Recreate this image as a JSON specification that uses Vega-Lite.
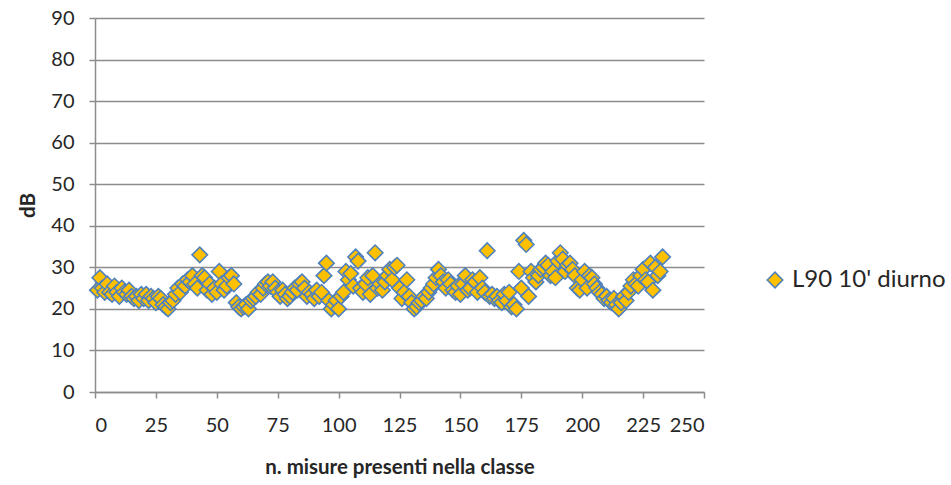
{
  "$schema": "https://vega.github.io/schema/vega-lite/v6.json",
  "autosize": "none",
  "width": 609,
  "height": 374,
  "padding": {"left": 95, "top": 18, "right": 247, "bottom": 93},
  "background": "white",
  "config": {
    "view": {"stroke": null},
    "font": "Lato",
    "axis": {"labelFont": "Lato", "titleFont": "Lato", "labelColor": "#262626", "titleColor": "#262626", "labelFontSize": 20, "titleFontSize": 20.5, "titleFontWeight": "bold", "gridColor": "#8c8c8c", "gridWidth": 1.5, "domainColor": "#8c8c8c", "domainWidth": 1.5, "tickColor": "#8c8c8c", "tickWidth": 1.5, "tickSize": 6}
  },
  "data": {"values": [
    {"n":1,"dB":24.5,"s":"L90 10' diurno"},{"n":2,"dB":27.5,"s":"L90 10' diurno"},{"n":3,"dB":25,"s":"L90 10' diurno"},{"n":4,"dB":24,"s":"L90 10' diurno"},{"n":5,"dB":26,"s":"L90 10' diurno"},{"n":6,"dB":24,"s":"L90 10' diurno"},{"n":7,"dB":23.5,"s":"L90 10' diurno"},{"n":8,"dB":25.5,"s":"L90 10' diurno"},{"n":9,"dB":24,"s":"L90 10' diurno"},{"n":10,"dB":23,"s":"L90 10' diurno"},
    {"n":11,"dB":25,"s":"L90 10' diurno"},{"n":12,"dB":24,"s":"L90 10' diurno"},{"n":13,"dB":23.5,"s":"L90 10' diurno"},{"n":14,"dB":24.5,"s":"L90 10' diurno"},{"n":15,"dB":23,"s":"L90 10' diurno"},{"n":16,"dB":22.5,"s":"L90 10' diurno"},{"n":17,"dB":23,"s":"L90 10' diurno"},{"n":18,"dB":22,"s":"L90 10' diurno"},{"n":19,"dB":23.5,"s":"L90 10' diurno"},{"n":20,"dB":22.5,"s":"L90 10' diurno"},
    {"n":21,"dB":23.5,"s":"L90 10' diurno"},{"n":22,"dB":22,"s":"L90 10' diurno"},{"n":23,"dB":23,"s":"L90 10' diurno"},{"n":24,"dB":22.5,"s":"L90 10' diurno"},{"n":25,"dB":21.5,"s":"L90 10' diurno"},{"n":26,"dB":23,"s":"L90 10' diurno"},{"n":27,"dB":22.5,"s":"L90 10' diurno"},{"n":28,"dB":21,"s":"L90 10' diurno"},{"n":29,"dB":20.5,"s":"L90 10' diurno"},{"n":30,"dB":20,"s":"L90 10' diurno"},
    {"n":31,"dB":21.5,"s":"L90 10' diurno"},{"n":32,"dB":22,"s":"L90 10' diurno"},{"n":33,"dB":23.5,"s":"L90 10' diurno"},{"n":34,"dB":25,"s":"L90 10' diurno"},{"n":35,"dB":24,"s":"L90 10' diurno"},{"n":36,"dB":26,"s":"L90 10' diurno"},{"n":37,"dB":25.5,"s":"L90 10' diurno"},{"n":38,"dB":27,"s":"L90 10' diurno"},{"n":39,"dB":26.5,"s":"L90 10' diurno"},{"n":40,"dB":28,"s":"L90 10' diurno"},
    {"n":41,"dB":26,"s":"L90 10' diurno"},{"n":42,"dB":25,"s":"L90 10' diurno"},{"n":43,"dB":33,"s":"L90 10' diurno"},{"n":44,"dB":28,"s":"L90 10' diurno"},{"n":45,"dB":27.5,"s":"L90 10' diurno"},{"n":46,"dB":24.5,"s":"L90 10' diurno"},{"n":47,"dB":26,"s":"L90 10' diurno"},{"n":48,"dB":23.5,"s":"L90 10' diurno"},{"n":49,"dB":25,"s":"L90 10' diurno"},{"n":50,"dB":24,"s":"L90 10' diurno"},
    {"n":51,"dB":29,"s":"L90 10' diurno"},{"n":52,"dB":26,"s":"L90 10' diurno"},{"n":53,"dB":24.5,"s":"L90 10' diurno"},{"n":54,"dB":25.5,"s":"L90 10' diurno"},{"n":55,"dB":27.5,"s":"L90 10' diurno"},{"n":56,"dB":28,"s":"L90 10' diurno"},{"n":57,"dB":26,"s":"L90 10' diurno"},{"n":58,"dB":21.5,"s":"L90 10' diurno"},{"n":59,"dB":20.5,"s":"L90 10' diurno"},{"n":60,"dB":20,"s":"L90 10' diurno"},
    {"n":61,"dB":20.5,"s":"L90 10' diurno"},{"n":62,"dB":21,"s":"L90 10' diurno"},{"n":63,"dB":20,"s":"L90 10' diurno"},{"n":64,"dB":22,"s":"L90 10' diurno"},{"n":65,"dB":22.5,"s":"L90 10' diurno"},{"n":66,"dB":23,"s":"L90 10' diurno"},{"n":67,"dB":24,"s":"L90 10' diurno"},{"n":68,"dB":23.5,"s":"L90 10' diurno"},{"n":69,"dB":25,"s":"L90 10' diurno"},{"n":70,"dB":26,"s":"L90 10' diurno"},
    {"n":71,"dB":26.5,"s":"L90 10' diurno"},{"n":72,"dB":25.5,"s":"L90 10' diurno"},{"n":73,"dB":26.5,"s":"L90 10' diurno"},{"n":74,"dB":25,"s":"L90 10' diurno"},{"n":75,"dB":24,"s":"L90 10' diurno"},{"n":76,"dB":23,"s":"L90 10' diurno"},{"n":77,"dB":24.5,"s":"L90 10' diurno"},{"n":78,"dB":23.5,"s":"L90 10' diurno"},{"n":79,"dB":22.5,"s":"L90 10' diurno"},{"n":80,"dB":23,"s":"L90 10' diurno"},
    {"n":81,"dB":24,"s":"L90 10' diurno"},{"n":82,"dB":25,"s":"L90 10' diurno"},{"n":83,"dB":24.5,"s":"L90 10' diurno"},{"n":84,"dB":26,"s":"L90 10' diurno"},{"n":85,"dB":26.5,"s":"L90 10' diurno"},{"n":86,"dB":25,"s":"L90 10' diurno"},{"n":87,"dB":23,"s":"L90 10' diurno"},{"n":88,"dB":24,"s":"L90 10' diurno"},{"n":89,"dB":23.5,"s":"L90 10' diurno"},{"n":90,"dB":22.5,"s":"L90 10' diurno"},
    {"n":91,"dB":24.5,"s":"L90 10' diurno"},{"n":92,"dB":23,"s":"L90 10' diurno"},{"n":93,"dB":24,"s":"L90 10' diurno"},{"n":94,"dB":28,"s":"L90 10' diurno"},{"n":95,"dB":31,"s":"L90 10' diurno"},{"n":96,"dB":22,"s":"L90 10' diurno"},{"n":97,"dB":20,"s":"L90 10' diurno"},{"n":98,"dB":21,"s":"L90 10' diurno"},{"n":99,"dB":22,"s":"L90 10' diurno"},{"n":100,"dB":20,"s":"L90 10' diurno"},
    {"n":101,"dB":23,"s":"L90 10' diurno"},{"n":102,"dB":24,"s":"L90 10' diurno"},{"n":103,"dB":29,"s":"L90 10' diurno"},{"n":104,"dB":27,"s":"L90 10' diurno"},{"n":105,"dB":28.5,"s":"L90 10' diurno"},{"n":106,"dB":25.5,"s":"L90 10' diurno"},{"n":107,"dB":32.5,"s":"L90 10' diurno"},{"n":108,"dB":31.5,"s":"L90 10' diurno"},{"n":109,"dB":25,"s":"L90 10' diurno"},{"n":110,"dB":24,"s":"L90 10' diurno"},
    {"n":111,"dB":26,"s":"L90 10' diurno"},{"n":112,"dB":27.5,"s":"L90 10' diurno"},{"n":113,"dB":23.5,"s":"L90 10' diurno"},{"n":114,"dB":28,"s":"L90 10' diurno"},{"n":115,"dB":33.5,"s":"L90 10' diurno"},{"n":116,"dB":25,"s":"L90 10' diurno"},{"n":117,"dB":26,"s":"L90 10' diurno"},{"n":118,"dB":24.5,"s":"L90 10' diurno"},{"n":119,"dB":26.5,"s":"L90 10' diurno"},{"n":120,"dB":28,"s":"L90 10' diurno"},
    {"n":121,"dB":29.5,"s":"L90 10' diurno"},{"n":122,"dB":27,"s":"L90 10' diurno"},{"n":123,"dB":30,"s":"L90 10' diurno"},{"n":124,"dB":30.5,"s":"L90 10' diurno"},{"n":125,"dB":25,"s":"L90 10' diurno"},{"n":126,"dB":22.5,"s":"L90 10' diurno"},{"n":127,"dB":24,"s":"L90 10' diurno"},{"n":128,"dB":27,"s":"L90 10' diurno"},{"n":129,"dB":23,"s":"L90 10' diurno"},{"n":130,"dB":21.5,"s":"L90 10' diurno"},
    {"n":131,"dB":20,"s":"L90 10' diurno"},{"n":132,"dB":20.5,"s":"L90 10' diurno"},{"n":133,"dB":21.5,"s":"L90 10' diurno"},{"n":134,"dB":22,"s":"L90 10' diurno"},{"n":135,"dB":23,"s":"L90 10' diurno"},{"n":136,"dB":22.5,"s":"L90 10' diurno"},{"n":137,"dB":24,"s":"L90 10' diurno"},{"n":138,"dB":25,"s":"L90 10' diurno"},{"n":139,"dB":26,"s":"L90 10' diurno"},{"n":140,"dB":27.5,"s":"L90 10' diurno"},
    {"n":141,"dB":29.5,"s":"L90 10' diurno"},{"n":142,"dB":28,"s":"L90 10' diurno"},{"n":143,"dB":26.5,"s":"L90 10' diurno"},{"n":144,"dB":25,"s":"L90 10' diurno"},{"n":145,"dB":27,"s":"L90 10' diurno"},{"n":146,"dB":26,"s":"L90 10' diurno"},{"n":147,"dB":24.5,"s":"L90 10' diurno"},{"n":148,"dB":24,"s":"L90 10' diurno"},{"n":149,"dB":25.5,"s":"L90 10' diurno"},{"n":150,"dB":23.5,"s":"L90 10' diurno"},
    {"n":151,"dB":26,"s":"L90 10' diurno"},{"n":152,"dB":28,"s":"L90 10' diurno"},{"n":153,"dB":24.5,"s":"L90 10' diurno"},{"n":154,"dB":25,"s":"L90 10' diurno"},{"n":155,"dB":27,"s":"L90 10' diurno"},{"n":156,"dB":26.5,"s":"L90 10' diurno"},{"n":157,"dB":24,"s":"L90 10' diurno"},{"n":158,"dB":27.5,"s":"L90 10' diurno"},{"n":159,"dB":25,"s":"L90 10' diurno"},{"n":160,"dB":24,"s":"L90 10' diurno"},
    {"n":161,"dB":34,"s":"L90 10' diurno"},{"n":162,"dB":23,"s":"L90 10' diurno"},{"n":163,"dB":23.5,"s":"L90 10' diurno"},{"n":164,"dB":22.5,"s":"L90 10' diurno"},{"n":165,"dB":23,"s":"L90 10' diurno"},{"n":166,"dB":22,"s":"L90 10' diurno"},{"n":167,"dB":21.5,"s":"L90 10' diurno"},{"n":168,"dB":23.5,"s":"L90 10' diurno"},{"n":169,"dB":22,"s":"L90 10' diurno"},{"n":170,"dB":24,"s":"L90 10' diurno"},
    {"n":171,"dB":20.5,"s":"L90 10' diurno"},{"n":172,"dB":21,"s":"L90 10' diurno"},{"n":173,"dB":20,"s":"L90 10' diurno"},{"n":174,"dB":29,"s":"L90 10' diurno"},{"n":175,"dB":25,"s":"L90 10' diurno"},{"n":176,"dB":36.5,"s":"L90 10' diurno"},{"n":177,"dB":35.5,"s":"L90 10' diurno"},{"n":178,"dB":23,"s":"L90 10' diurno"},{"n":179,"dB":29,"s":"L90 10' diurno"},{"n":180,"dB":27.5,"s":"L90 10' diurno"},
    {"n":181,"dB":26.5,"s":"L90 10' diurno"},{"n":182,"dB":28,"s":"L90 10' diurno"},{"n":183,"dB":29.5,"s":"L90 10' diurno"},{"n":184,"dB":30,"s":"L90 10' diurno"},{"n":185,"dB":31,"s":"L90 10' diurno"},{"n":186,"dB":30.5,"s":"L90 10' diurno"},{"n":187,"dB":28,"s":"L90 10' diurno"},{"n":188,"dB":29,"s":"L90 10' diurno"},{"n":189,"dB":27.5,"s":"L90 10' diurno"},{"n":190,"dB":31.5,"s":"L90 10' diurno"},
    {"n":191,"dB":33.5,"s":"L90 10' diurno"},{"n":192,"dB":32,"s":"L90 10' diurno"},{"n":193,"dB":29,"s":"L90 10' diurno"},{"n":194,"dB":30.5,"s":"L90 10' diurno"},{"n":195,"dB":31,"s":"L90 10' diurno"},{"n":196,"dB":29.5,"s":"L90 10' diurno"},{"n":197,"dB":28,"s":"L90 10' diurno"},{"n":198,"dB":25,"s":"L90 10' diurno"},{"n":199,"dB":24.5,"s":"L90 10' diurno"},{"n":200,"dB":27,"s":"L90 10' diurno"},
    {"n":201,"dB":29,"s":"L90 10' diurno"},{"n":202,"dB":25,"s":"L90 10' diurno"},{"n":203,"dB":28,"s":"L90 10' diurno"},{"n":204,"dB":27.5,"s":"L90 10' diurno"},{"n":205,"dB":26,"s":"L90 10' diurno"},{"n":206,"dB":25,"s":"L90 10' diurno"},{"n":207,"dB":24,"s":"L90 10' diurno"},{"n":208,"dB":23.5,"s":"L90 10' diurno"},{"n":209,"dB":22.5,"s":"L90 10' diurno"},{"n":210,"dB":23,"s":"L90 10' diurno"},
    {"n":211,"dB":22,"s":"L90 10' diurno"},{"n":212,"dB":21.5,"s":"L90 10' diurno"},{"n":213,"dB":22.5,"s":"L90 10' diurno"},{"n":214,"dB":21,"s":"L90 10' diurno"},{"n":215,"dB":20,"s":"L90 10' diurno"},{"n":216,"dB":21.5,"s":"L90 10' diurno"},{"n":217,"dB":23,"s":"L90 10' diurno"},{"n":218,"dB":22,"s":"L90 10' diurno"},{"n":219,"dB":24,"s":"L90 10' diurno"},{"n":220,"dB":25.5,"s":"L90 10' diurno"},
    {"n":221,"dB":27,"s":"L90 10' diurno"},{"n":222,"dB":26,"s":"L90 10' diurno"},{"n":223,"dB":25.5,"s":"L90 10' diurno"},{"n":224,"dB":28,"s":"L90 10' diurno"},{"n":225,"dB":29.5,"s":"L90 10' diurno"},{"n":226,"dB":27,"s":"L90 10' diurno"},{"n":227,"dB":26.5,"s":"L90 10' diurno"},{"n":228,"dB":31,"s":"L90 10' diurno"},{"n":229,"dB":24.5,"s":"L90 10' diurno"},{"n":230,"dB":30,"s":"L90 10' diurno"},
    {"n":231,"dB":28,"s":"L90 10' diurno"},{"n":232,"dB":29,"s":"L90 10' diurno"},{"n":233,"dB":32.5,"s":"L90 10' diurno"}
  ]},
  "mark": {"type": "point", "shape": "diamond", "filled": true, "size": 240, "fill": "#FFC000", "stroke": "#4F81BD", "strokeWidth": 1.6, "opacity": 1},
  "encoding": {
    "x": {"field": "n", "type": "quantitative", "scale": {"domain": [0, 250], "nice": false}, "axis": {"values": [0,25,50,75,100,125,150,175,200,225,250], "grid": false, "title": "n. misure presenti nella classe", "labelPadding": 17, "titlePadding": 22}},
    "y": {"field": "dB", "type": "quantitative", "scale": {"domain": [0, 90], "nice": false}, "axis": {"values": [0,10,20,30,40,50,60,70,80,90], "grid": true, "title": "dB", "labelPadding": 15, "titlePadding": 12}},
    "color": {"field": "s", "type": "nominal", "scale": {"range": ["#FFC000"]}, "legend": {"title": null, "orient": "none", "legendX": 668, "legendY": 250, "labelFont": "Lato", "labelFontSize": 24, "labelColor": "#262626", "symbolType": "diamond", "symbolSize": 240, "symbolStrokeColor": "#4F81BD", "symbolStrokeWidth": 1.6, "symbolFillColor": "#FFC000", "labelOffset": 5}}
  }
}
